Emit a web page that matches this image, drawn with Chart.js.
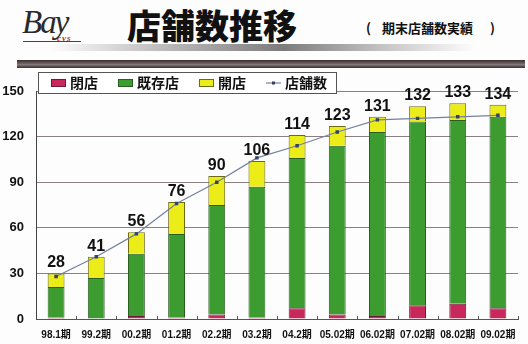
<!DOCTYPE html>
<html lang="ja">
<head>
<meta charset="utf-8">
<script src="https://cdn.jsdelivr.net/npm/chart.js@4.4.1/dist/chart.umd.min.js"></script>
<style>
  html, body { margin: 0; padding: 0; background: #fdfdfd; }
  #wrap { position: relative; width: 528px; height: 344px; overflow: hidden; font-family: "Noto Sans CJK JP", "Liberation Sans", sans-serif; }
  #chart { position: absolute; left: 0; top: 0; }
  .logo { position: absolute; left: 22px; top: 4px; font-family: "Liberation Serif", serif; font-style: italic; font-size: 33px; line-height: 36px; color: #2a2a2a; letter-spacing: -2px; }
  .logo-sub { position: absolute; left: 57px; top: 33px; font-family: "Liberation Serif", serif; font-style: italic; font-weight: bold; font-size: 9px; color: #b0302a; letter-spacing: 1px; }
  .logo-rule { position: absolute; left: 23px; top: 41px; width: 58px; height: 1px; background: #444; }
  .title { position: absolute; left: 127px; top: 8px; font-size: 34px; line-height: 34px; font-weight: 900; color: #111; }
  .subtitle { position: absolute; left: 366px; top: 20px; font-size: 13px; line-height: 16px; font-weight: bold; color: #111; white-space: nowrap; }
  .shade { position: absolute; left: 50px; top: 44px; width: 425px; height: 7px;
           background: linear-gradient(to right, rgba(150,150,150,0) 0%, rgba(150,150,150,0.6) 25%, rgba(110,110,110,0.9) 55%, rgba(150,150,150,0.5) 80%, rgba(170,170,170,0) 100%); }
  .band { position: absolute; left: 17px; top: 60px; width: 508px; height: 8px;
          background: linear-gradient(to bottom, #3b2c2e 0%, #6e6264 45%, #857a7b 55%, #3e3032 100%); }
</style>
</head>
<body>
<div id="wrap">
  <div class="logo">Bay</div>
  <div class="logo-sub">cvs</div>
  <div class="logo-rule"></div>
  <div class="title">店舗数推移</div>
  <div class="subtitle">(<span style="margin-left:11px">期末店舗数実績</span><span style="margin-left:17px">)</span></div>
  <div class="shade"></div>
  <div class="band"></div>
  <canvas id="chart" width="528" height="344"></canvas>
</div>
<script>
// Fiscal periods
const periods = ['98.1期', '99.2期', '00.2期', '01.2期', '02.2期', '03.2期', '04.2期', '05.02期', '06.02期', '07.02期', '08.02期', '09.02期'];
// Stores closed during the period (stack bottom)
const closedStores = [1, 0, 2, 1, 3, 1, 7, 3, 2, 9, 10, 7];
// Existing stores
const existingStores = [20, 27, 41, 55, 72, 86, 99, 111, 121, 121, 121, 126];
// Stores opened during the period (stack top)
const openedStores = [9, 14, 14, 21, 19, 17, 15, 13, 10, 10, 11, 8];
// Store count at period end
const storeCount = [28, 41, 56, 76, 90, 106, 114, 123, 131, 132, 133, 134];
// Value axis ticks
const yTicks = [0, 30, 60, 90, 120, 150];

const seriesNames = ['閉店', '既存店', '開店', '店舗数'];

// Legend panel drawn in the upper-left corner, overlapping the plot frame
const legendPanel = {
  id: 'legendPanel',
  afterDraw(chart) {
    const ctx = chart.ctx;
    const top = 72, h = 21, left = 38;
    ctx.save();
    ctx.font = 'bold 14px "Noto Sans CJK JP", sans-serif';
    let x = 51;
    const cy = top + h / 2 + 0.5;
    const items = chart.data.datasets;
    const pos = [];
    items.forEach((ds) => {
      const tw = ctx.measureText(ds.label).width;
      pos.push(x);
      x += 15 + 4 + tw + 20;
    });
    const right = x - 20 + 9;
    ctx.fillStyle = '#ffffff';
    ctx.fillRect(left, top, right - left, h);
    ctx.strokeStyle = '#555';
    ctx.lineWidth = 1;
    ctx.strokeRect(left + 0.5, top + 0.5, right - left, h);
    items.forEach((ds, i) => {
      const sx = pos[i];
      if (ds.type === 'line') {
        ctx.strokeStyle = ds.borderColor;
        ctx.lineWidth = 1.2;
        ctx.beginPath();
        ctx.moveTo(sx, cy);
        ctx.lineTo(sx + 15, cy);
        ctx.stroke();
        ctx.fillStyle = ds.pointBorderColor;
        ctx.fillRect(sx + 6, cy - 1.5, 3, 3);
      } else {
        ctx.fillStyle = ds.backgroundColor;
        ctx.fillRect(sx, cy - 4, 15, 8);
        ctx.strokeStyle = ds.borderColor;
        ctx.lineWidth = 1;
        ctx.strokeRect(sx + 0.5, cy - 3.5, 14, 7);
      }
      ctx.fillStyle = '#111';
      ctx.textBaseline = 'middle';
      ctx.textAlign = 'left';
      ctx.fillText(ds.label, sx + 19, cy);
    });
    ctx.restore();
  }
};

// Count labels placed above each stacked column
const countLabels = {
  id: 'countLabels',
  afterDatasetsDraw(chart) {
    const ctx = chart.ctx;
    const y = chart.scales.y;
    const meta = chart.getDatasetMeta(0);
    ctx.save();
    ctx.font = 'bold 16px "Liberation Sans", Arial, sans-serif';
    ctx.fillStyle = '#111';
    ctx.textAlign = 'center';
    ctx.textBaseline = 'alphabetic';
    storeCount.forEach((v, i) => {
      const total = closedStores[i] + existingStores[i] + openedStores[i];
      const px = meta.data[i].x;
      const py = y.getPixelForValue(total) - 6;
      ctx.fillText(String(v), px, py);
    });
    ctx.restore();
  }
};

// Short inward tick marks on the category axis
const innerTicks = {
  id: 'innerTicks',
  afterDraw(chart) {
    const ctx = chart.ctx;
    const x = chart.scales.x;
    const bottom = chart.chartArea.bottom;
    ctx.save();
    ctx.strokeStyle = '#555';
    ctx.lineWidth = 1;
    for (let i = 1; i <= periods.length; i++) {
      const bx = i < periods.length
        ? (x.getPixelForValue(i - 1) + x.getPixelForValue(i)) / 2
        : chart.chartArea.right;
      ctx.beginPath();
      ctx.moveTo(Math.round(bx) + 0.5, bottom - 3);
      ctx.lineTo(Math.round(bx) + 0.5, bottom);
      ctx.stroke();
    }
    ctx.restore();
  }
};

new Chart(document.getElementById('chart'), {
  data: {
    labels: periods,
    datasets: [
      { type: 'bar', label: seriesNames[0], data: closedStores, backgroundColor: '#c8285c', borderColor: '#6e1a34', borderWidth: 1, stack: 'stores', order: 2 },
      { type: 'bar', label: seriesNames[1], data: existingStores, backgroundColor: '#3d9c30', borderColor: '#2b5e22', borderWidth: 1, stack: 'stores', order: 2 },
      { type: 'bar', label: seriesNames[2], data: openedStores, backgroundColor: '#ecec18', borderColor: '#6c6a14', borderWidth: 1, stack: 'stores', order: 2 },
      { type: 'line', label: seriesNames[3], data: storeCount, borderColor: '#7480a0', borderWidth: 1.2, pointStyle: 'rect', pointRadius: 1.6,
        pointBackgroundColor: '#34406a', pointBorderColor: '#34406a', tension: 0, stack: 'count', order: 1 }
    ]
  },
  options: {
    responsive: false,
    animation: false,
    layout: { padding: { top: 91, left: 0, right: 10, bottom: 0 } },
    datasets: { bar: { barPercentage: 0.42, categoryPercentage: 1.0 } },
    plugins: { legend: { display: false }, tooltip: { enabled: false }, title: { display: false } },
    scales: {
      x: {
        stacked: true,
        grid: { display: false, drawTicks: false },
        border: { display: true, color: '#555', width: 1 },
        ticks: { color: '#111', padding: 10, font: { size: 10, weight: 'bold', family: '"Liberation Sans", "Noto Sans CJK JP", sans-serif' }, maxRotation: 0, autoSkip: false },
        afterFit(scale) { scale.height = 25; }
      },
      y: {
        stacked: true,
        min: 0,
        max: 150,
        afterBuildTicks(scale) { scale.ticks = yTicks.map(v => ({ value: v })); },
        grid: { color: '#8a8080', lineWidth: 1, drawTicks: false },
        border: { display: true, color: '#444', width: 1 },
        ticks: { color: '#111', padding: 12, font: { size: 13, weight: 'bold', family: '"Liberation Sans", Arial, sans-serif' } },
        afterFit(scale) { scale.width = 36; }
      }
    }
  },
  plugins: [countLabels, innerTicks, legendPanel]
});
</script>
</body>
</html>
